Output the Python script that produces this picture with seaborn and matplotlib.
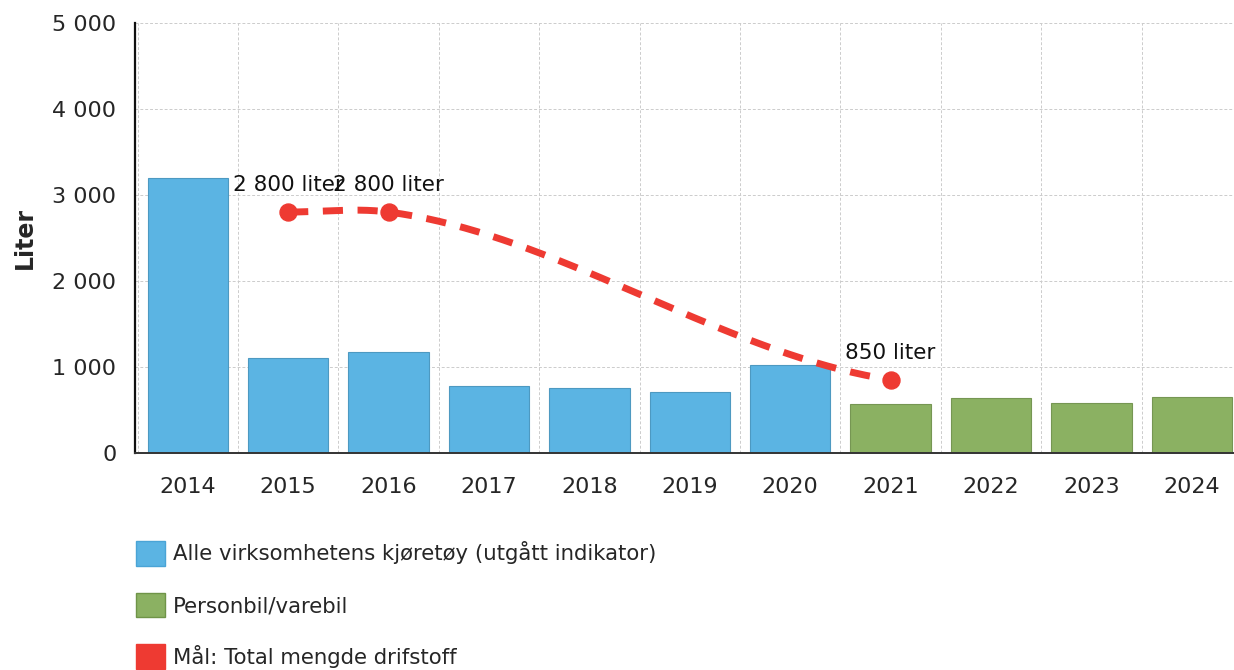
"""Drivstofforbruk per år med mål-kurve."""

import numpy as np
import pandas as pd
import matplotlib
matplotlib.use("Agg")
import matplotlib.pyplot as plt
from matplotlib.patches import Patch
import seaborn as sns

years = ["2014", "2015", "2016", "2017", "2018", "2019", "2020",
         "2021", "2022", "2023", "2024"]
values = [3200, 1100, 1175, 780, 755, 710, 1020, 570, 640, 580, 650]
series = ["Alle virksomhetens kjøretøy (utgått indikator)"] * 7 + ["Personbil/varebil"] * 4
target_years = ["2015", "2016", "2021"]
target_values = [2800, 2800, 850]
target_labels = ["2 800 liter", "2 800 liter", "850 liter"]
target_name = "Mål: Total mengde drifstoff"
yticks = [0, 1000, 2000, 3000, 4000, 5000]
ytick_labels = ["0", "1 000", "2 000", "3 000", "4 000", "5 000"]

blue = "#5BB4E3"
green = "#8BB162"
red = "#EE3A32"

df = pd.DataFrame({"year": years, "value": values, "series": series})

sns.set_style("white")
plt.rcParams["font.family"] = ["DejaVu Sans"]

fig = plt.figure(figsize=(12.34, 6.70), dpi=100)
ax = fig.add_axes([0.109, 0.324, 0.891, 0.642])

sns.barplot(data=df, x="year", y="value", hue="series", dodge=False,
            palette=[blue, green], saturation=1, width=0.8, legend=False,
            ax=ax, zorder=2)
for bar in ax.patches:
    fc = bar.get_facecolor()
    bar.set_edgecolor(tuple(c * 0.85 for c in fc[:3]))
    bar.set_linewidth(0.8)

# mål-kurve: kardinal spline (Hermite) gjennom målpunktene
tx = np.array([years.index(y) for y in target_years], dtype=float)
ty = np.array(target_values, dtype=float)
tension = 0.54
tang = np.empty_like(ty)
tang[0] = (ty[1] - ty[0]) / (tx[1] - tx[0])
tang[-1] = (ty[-1] - ty[-2]) / (tx[-1] - tx[-2])
tang[1:-1] = (ty[2:] - ty[:-2]) / (tx[2:] - tx[:-2])
tang *= (1 - tension)
cx, cy = [], []
for i in range(len(tx) - 1):
    h = tx[i + 1] - tx[i]
    u = np.linspace(0, 1, 80)
    h00 = 2 * u ** 3 - 3 * u ** 2 + 1
    h10 = u ** 3 - 2 * u ** 2 + u
    h01 = -2 * u ** 3 + 3 * u ** 2
    h11 = u ** 3 - u ** 2
    cx.extend(tx[i] + u * h)
    cy.extend(h00 * ty[i] + h10 * h * tang[i] + h01 * ty[i + 1] + h11 * h * tang[i + 1])
ax.plot(cx, cy, color=red, lw=5, dashes=(2.9, 2.1),
        dash_capstyle="butt", zorder=4)
sns.scatterplot(x=tx, y=ty, color=red, s=150, edgecolor=red, zorder=5,
                ax=ax, legend=False)
for x, y, lab in zip(tx, ty, target_labels):
    ax.annotate(lab, (x, y), xytext=(0, 12), textcoords="offset points",
                ha="center", va="bottom", fontsize=15.5, color="#111111")

ax.set_xlim(-0.53, 10.42)
ax.set_ylim(0, 5000)
ax.set_yticks(yticks)
ax.set_yticklabels(ytick_labels)
ax.set_xlabel("")
ax.set_ylabel("Liter", fontsize=17, fontweight="bold", labelpad=11)
ax.tick_params(axis="y", labelsize=16, length=9, width=1.2, color="#222222", pad=4)
ax.tick_params(axis="x", labelsize=16, length=5, width=0.8, color="#555555", pad=12)

ax.set_xticks(np.arange(-0.5, 10.5, 1), minor=True)
ax.grid(False)
ax.grid(axis="y", which="major", color="#cccccc", ls=(0, (3, 2)), lw=0.7, zorder=0)
ax.grid(axis="x", which="minor", color="#cccccc", ls=(0, (3, 2)), lw=0.7, zorder=0)
ax.tick_params(axis="x", which="minor", length=0)

sns.despine(ax=ax, top=True, right=True)
ax.spines["left"].set_color("#111111")
ax.spines["left"].set_linewidth(1.6)
ax.spines["bottom"].set_color("#333333")
ax.spines["bottom"].set_linewidth(1.4)

handles = [Patch(facecolor=blue, edgecolor="#4aa4d6"),
           Patch(facecolor=green, edgecolor="#6f9448"),
           Patch(facecolor=red, edgecolor=red)]
labels = [series[0], series[-1], target_name]
fig.legend(handles, labels, loc="upper left", bbox_to_anchor=(0.103, 0.205),
           frameon=False, fontsize=15.3, handlelength=1.4, handleheight=1.4,
           handletextpad=0.35, labelspacing=1.27, borderaxespad=0)

fig.savefig("out.png", dpi=100)
plt.close(fig)
